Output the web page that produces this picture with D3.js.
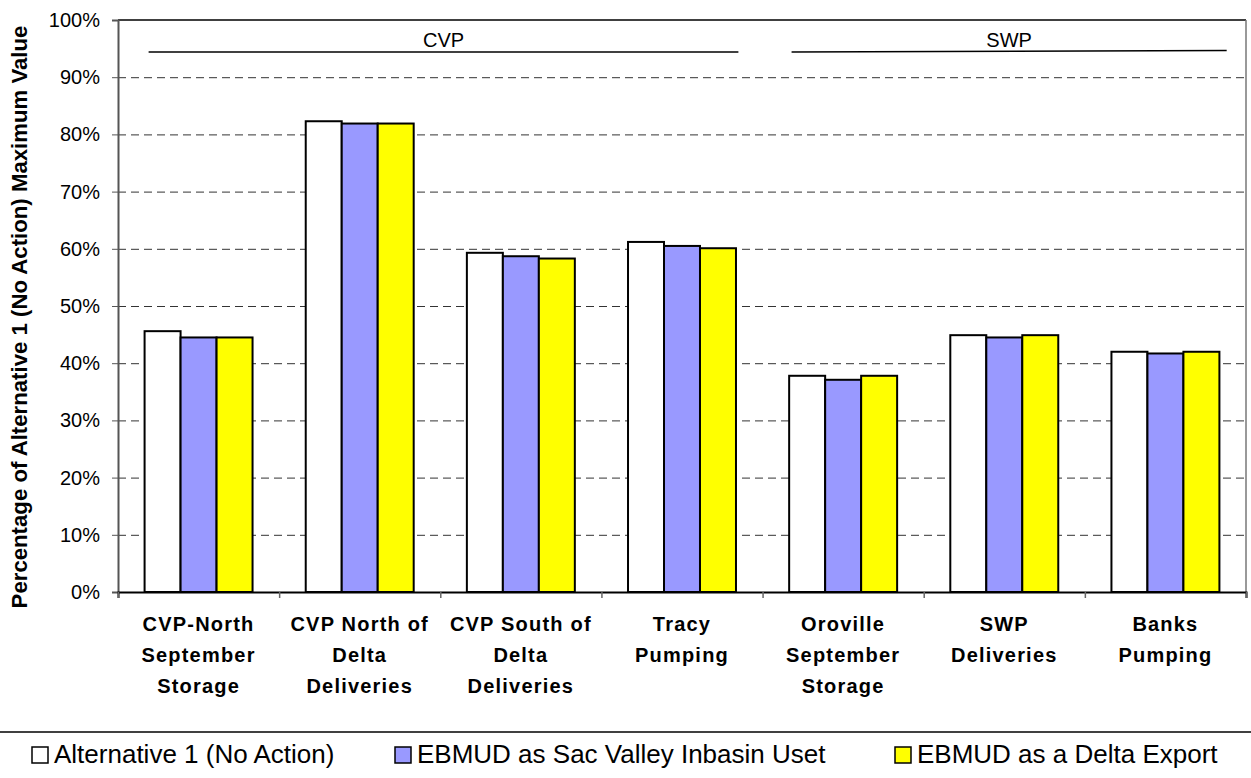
<!DOCTYPE html>
<html>
<head>
<meta charset="utf-8">
<script src="https://cdn.jsdelivr.net/npm/d3@7"></script>
<style>
  body { margin: 0; background: #fff; }
  svg { display: block; font-family: Arial, "Liberation Sans", sans-serif; }
</style>
</head>
<body>
<div id="chart"></div>
<script>
// categories (multi-line labels)
var categories = [
  ["CVP-North", "September", "Storage"],
  ["CVP North of", "Delta", "Deliveries"],
  ["CVP South of", "Delta", "Deliveries"],
  ["Tracy", "Pumping"],
  ["Oroville", "September", "Storage"],
  ["SWP", "Deliveries"],
  ["Banks", "Pumping"]
];
var seriesNames = ["Alternative 1 (No Action)", "EBMUD as Sac Valley Inbasin Uset", "EBMUD as a Delta Export"];
var seriesColors = ["#FFFFFF", "#9999FF", "#FFFF00"];

// percent values per series
var alt1 = [45.6, 82.3, 59.3, 61.2, 37.8, 44.9, 42.0];
var ebmudSac = [44.5, 81.9, 58.7, 60.5, 37.1, 44.5, 41.7];
var ebmudDelta = [44.5, 81.9, 58.3, 60.1, 37.8, 44.9, 42.0];
var seriesValues = [alt1, ebmudSac, ebmudDelta];

var yTicks = [0, 10, 20, 30, 40, 50, 60, 70, 80, 90, 100];

// project groups: label, start / end in category units
var groups = [
  {label: "CVP", from: 0.19, to: 3.85, tilt: 0},
  {label: "SWP", from: 4.18, to: 6.88, tilt: 1.5}
];

var width = 1251, height = 778;
var margin = {top: 20, right: 5, bottom: 186, left: 118};
var plotW = width - margin.left - margin.right;
var plotH = height - margin.top - margin.bottom;

var svg = d3.select("#chart").append("svg")
  .attr("width", width)
  .attr("height", height);

svg.append("rect").attr("width", width).attr("height", height).attr("fill", "#fff");

var g = svg.append("g")
  .attr("transform", "translate(" + margin.left + "," + margin.top + ")");

var xScale = d3.scaleBand()
  .domain(d3.range(categories.length))
  .range([0, plotW])
  .paddingInner(0.33)
  .paddingOuter(0.165);

var xSub = d3.scaleBand()
  .domain(d3.range(seriesNames.length))
  .range([0, xScale.bandwidth()]);

var xIdx = d3.scaleLinear().domain([0, categories.length]).range([0, plotW]);

var yScale = d3.scaleLinear().domain([0, 100]).range([plotH, 0]);

// grid lines
g.append("g")
  .attr("class", "grid")
  .call(d3.axisLeft(yScale).tickValues(yTicks.filter(function(t) { return t > 0 && t < 100; }))
    .tickSize(-plotW).tickFormat(""))
  .call(function(s) { s.select(".domain").remove(); })
  .selectAll(".tick line")
  .attr("stroke", "#333")
  .attr("stroke-width", 1)
  .attr("stroke-dasharray", "8,5");

// top and right frame
g.append("line").attr("x1", 0).attr("x2", plotW).attr("y1", 0).attr("y2", 0)
  .attr("stroke", "#000").attr("stroke-width", 1.5);
g.append("line").attr("x1", plotW).attr("x2", plotW).attr("y1", 0).attr("y2", plotH)
  .attr("stroke", "#777").attr("stroke-width", 1.5);

// bars
var cats = g.selectAll(".cat").data(categories).enter().append("g")
  .attr("class", "cat")
  .attr("transform", function(d, i) { return "translate(" + xScale(i) + ",0)"; });

cats.selectAll("rect")
  .data(function(d, i) { return seriesValues.map(function(s, j) { return {s: j, v: s[i]}; }); })
  .enter().append("rect")
  .attr("x", function(d) { return xSub(d.s); })
  .attr("y", function(d) { return yScale(d.v); })
  .attr("width", xSub.bandwidth())
  .attr("height", function(d) { return plotH - yScale(d.v); })
  .attr("fill", function(d) { return seriesColors[d.s]; })
  .attr("stroke", "#000")
  .attr("stroke-width", 2);

// y axis
var yAxis = g.append("g")
  .call(d3.axisLeft(yScale).tickValues(yTicks).tickSize(6).tickPadding(12)
    .tickFormat(function(d) { return d + "%"; }));
yAxis.select(".domain").attr("stroke", "#555").attr("stroke-width", 2);
yAxis.selectAll(".tick line").attr("stroke", "#555");
yAxis.selectAll(".tick text")
  .attr("font-size", "20px").attr("fill", "#000")
  .attr("font-family", "Arial, 'Liberation Sans', sans-serif");

// x axis
var xAxis = g.append("g")
  .attr("transform", "translate(0," + plotH + ")")
  .call(d3.axisBottom(xIdx).tickValues(d3.range(categories.length + 1)).tickSize(6).tickFormat(""));
xAxis.select(".domain").attr("stroke", "#000").attr("stroke-width", 2);
xAxis.selectAll(".tick line").attr("stroke", "#666").attr("stroke-width", 1.5);

// category labels
var labels = g.append("g").selectAll("text").data(categories).enter().append("text")
  .attr("x", function(d, i) { return xScale(i) + xScale.bandwidth() / 2; })
  .attr("y", plotH + 39)
  .attr("text-anchor", "middle")
  .attr("font-size", "20px")
  .attr("font-weight", "bold")
  .attr("letter-spacing", "1.2px");
labels.selectAll("tspan").data(function(d) { return d; }).enter().append("tspan")
  .attr("x", function() { return d3.select(this.parentNode).attr("x"); })
  .attr("dy", function(d, i) { return i === 0 ? 0 : 31; })
  .text(function(d) { return d; });

// project group annotations
groups.forEach(function(gr) {
  g.append("line")
    .attr("x1", xIdx(gr.from)).attr("x2", xIdx(gr.to))
    .attr("y1", 32).attr("y2", 32 - gr.tilt)
    .attr("stroke", "#000").attr("stroke-width", 1.5);
  g.append("text")
    .attr("x", (xIdx(gr.from) + xIdx(gr.to)) / 2)
    .attr("y", 27)
    .attr("text-anchor", "middle")
    .attr("font-size", "20px")
    .text(gr.label);
});

// y axis title
svg.append("text")
  .attr("transform", "translate(27," + 317 + ") rotate(-90)")
  .attr("text-anchor", "middle")
  .attr("font-size", "22.2px")
  .attr("font-weight", "bold")
  .text("Percentage of Alternative 1 (No Action) Maximum Value");

// legend
svg.append("line").attr("x1", 0).attr("x2", width).attr("y1", 732).attr("y2", 732)
  .attr("stroke", "#000").attr("stroke-width", 1.5);
var legendX = [32, 395, 895];
var legend = svg.selectAll(".legend").data(seriesNames).enter().append("g")
  .attr("class", "legend")
  .attr("transform", function(d, i) { return "translate(" + legendX[i] + ",747)"; });
legend.append("rect")
  .attr("width", 16).attr("height", 16)
  .attr("fill", function(d, i) { return seriesColors[i]; })
  .attr("stroke", "#000").attr("stroke-width", 1.5);
legend.append("text")
  .attr("x", 22).attr("y", 16)
  .attr("font-size", "26px")
  .text(function(d) { return d; });
</script>
</body>
</html>
